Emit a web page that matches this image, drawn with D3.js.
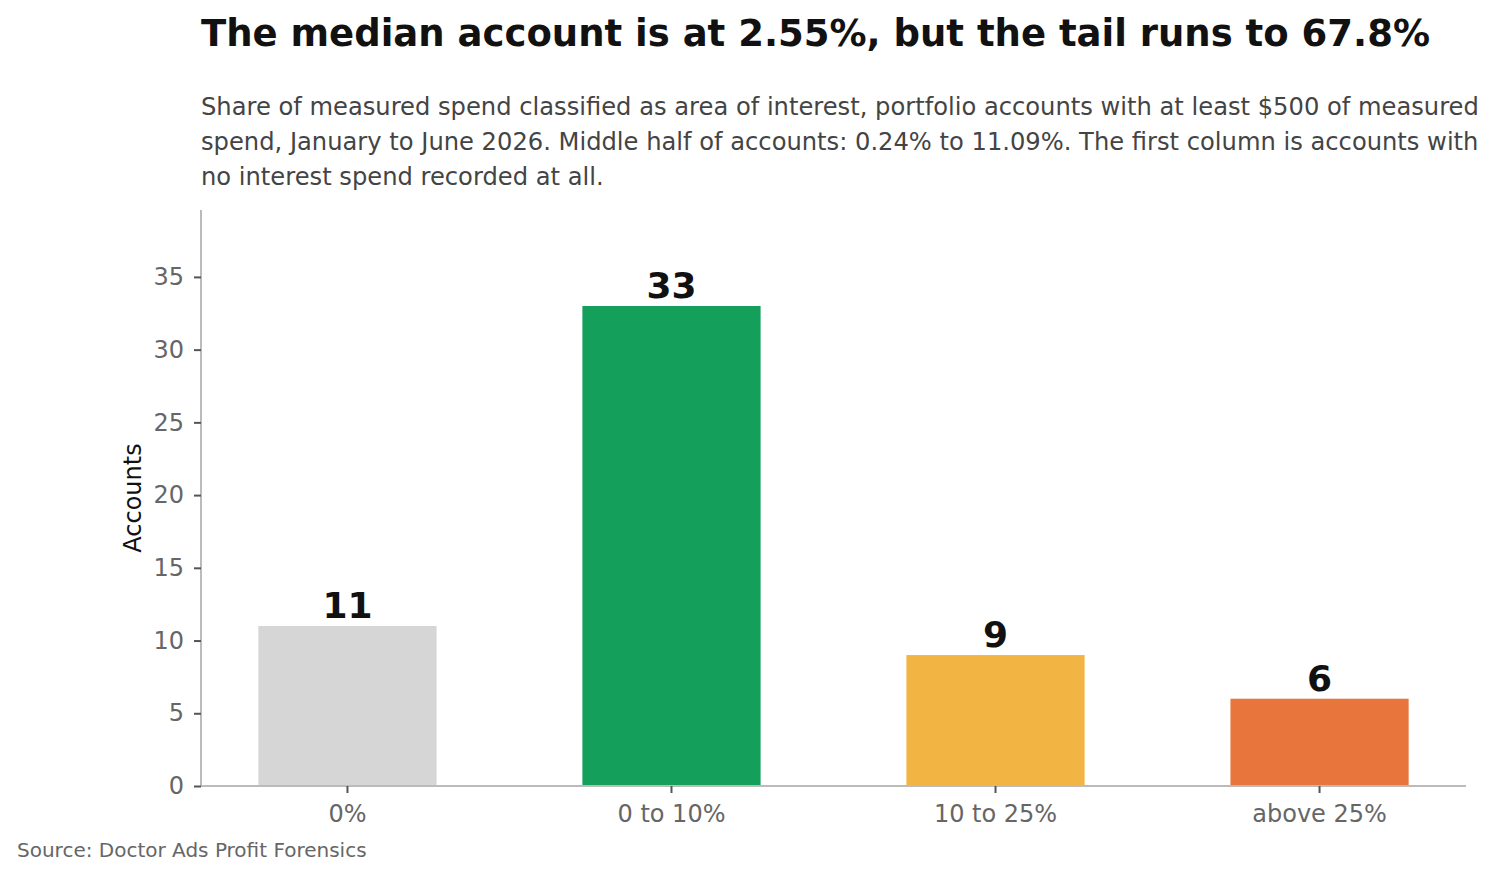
<!DOCTYPE html>
<html>
<head>
<meta charset="utf-8">
<script src="https://cdn.jsdelivr.net/npm/d3@7"></script>
<style>
  body { margin: 0; background: #fff; }
  svg { display: block; font-family: "DejaVu Sans", sans-serif; }
</style>
</head>
<body>
<svg id="chart" width="1497" height="879"></svg>
<script>
// data
const categories = ["0%", "0 to 10%", "10 to 25%", "above 25%"];
const accounts = [11, 33, 9, 6];
const barColors = ["#d6d6d6", "#14a05a", "#f2b443", "#e8763c"];
const yTicks = [0, 5, 10, 15, 20, 25, 30, 35];

const title = "The median account is at 2.55%, but the tail runs to 67.8%";
const subtitle = [
  "Share of measured spend classified as area of interest, portfolio accounts with at least $500 of measured",
  "spend, January to June 2026. Middle half of accounts: 0.24% to 11.09%. The first column is accounts with",
  "no interest spend recorded at all."
];
const source = "Source: Doctor Ads Profit Forensics";

const plot = { left: 201, right: 1466, top: 210, bottom: 786 };

const svg = d3.select("#chart");

// scales
const x = d3.scaleBand()
  .domain(categories)
  .range([plot.left, plot.right])
  .paddingInner(0.45)
  .paddingOuter(0.177);

const y = d3.scaleLinear()
  .domain([0, d3.max(accounts) * 1.2])
  .range([plot.bottom, plot.top]);

// title + subtitle
svg.append("text")
  .attr("x", 201).attr("y", 46)
  .attr("font-size", 37).attr("font-weight", "bold")
  .attr("fill", "#111")
  .text(title);

svg.append("g").selectAll("text")
  .data(subtitle)
  .join("text")
  .attr("x", 201)
  .attr("y", (d, i) => 115 + i * 35)
  .attr("font-size", 24.2)
  .attr("fill", "#444")
  .text(d => d);

// bars
svg.append("g").selectAll("rect")
  .data(accounts)
  .join("rect")
  .attr("x", (d, i) => x(categories[i]))
  .attr("y", d => y(d))
  .attr("width", x.bandwidth())
  .attr("height", d => y(0) - y(d))
  .attr("fill", (d, i) => barColors[i]);

// value labels
svg.append("g").selectAll("text")
  .data(accounts)
  .join("text")
  .attr("x", (d, i) => x(categories[i]) + x.bandwidth() / 2)
  .attr("y", d => y(d) - 8)
  .attr("text-anchor", "middle")
  .attr("font-size", 36).attr("font-weight", "bold")
  .attr("fill", "#111")
  .text(d => d);

// axes
const yAxis = svg.append("g")
  .attr("transform", `translate(${plot.left},0)`)
  .call(d3.axisLeft(y).tickValues(yTicks).tickSize(7).tickPadding(10));

const xAxis = svg.append("g")
  .attr("transform", `translate(0,${plot.bottom})`)
  .call(d3.axisBottom(x).tickSize(7).tickPadding(12));

[yAxis, xAxis].forEach(g => {
  g.select(".domain").attr("stroke", "#bbb").attr("stroke-width", 2);
  g.selectAll(".tick line").attr("stroke", "#555").attr("stroke-width", 2);
  g.selectAll(".tick text")
    .attr("fill", "#666")
    .attr("font-size", 24)
    .attr("font-family", "DejaVu Sans, sans-serif");
});
// y-axis line runs up to the top of the plot
yAxis.select(".domain").attr("d", `M0,${plot.bottom}V${plot.top}`);
xAxis.select(".domain").attr("d", `M${plot.left},0H${plot.right}`);

// y label
svg.append("text")
  .attr("transform", `translate(141,${(plot.top + plot.bottom) / 2}) rotate(-90)`)
  .attr("text-anchor", "middle")
  .attr("font-size", 24)
  .attr("fill", "#111")
  .text("Accounts");

// source
svg.append("text")
  .attr("x", 17).attr("y", 857)
  .attr("font-size", 20)
  .attr("fill", "#666")
  .text(source);
</script>
</body>
</html>
